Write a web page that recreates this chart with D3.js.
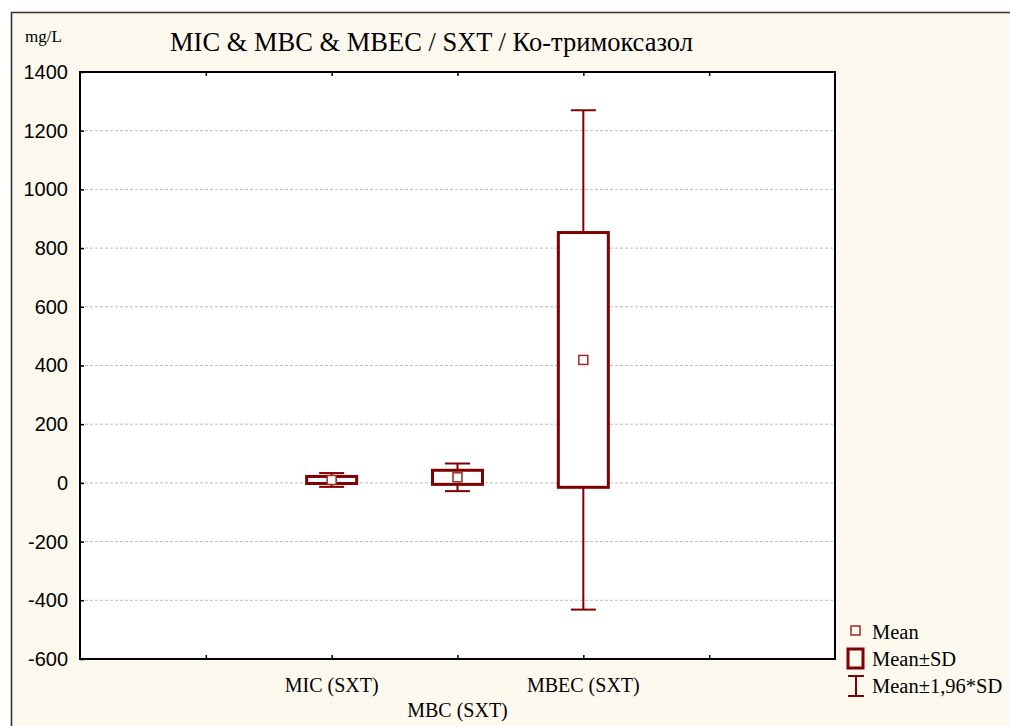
<!DOCTYPE html>
<html>
<head>
<meta charset="utf-8">
<script src="https://cdn.jsdelivr.net/npm/d3@7"></script>
<style>
  html, body { margin: 0; padding: 0; background: #ffffff; overflow: hidden; }
  svg { display: block; }
</style>
</head>
<body>
<svg id="chart" width="1010" height="726"></svg>
<script>
// Variables shown on the category axis
const categories = ["MIC (SXT)", "MBC (SXT)", "MBEC (SXT)"];
// Mean and standard deviation of each variable (mg/L)
const means = [10, 19, 419];
const sds = [12, 24, 434];
// Value-axis tick labels
const yTicks = [-600, -400, -200, 0, 200, 400, 600, 800, 1000, 1200, 1400];
const gridValues = [-400, -200, 0, 200, 400, 600, 800, 1000, 1200];
const legendLabels = ["Mean", "Mean±SD", "Mean±1,96*SD"];

const svg = d3.select("#chart");
const red = "#7f0000";
const serif = "Liberation Serif";
const sans = "Liberation Sans";

const plot = { left: 80, right: 835, top: 72, bottom: 659 };

// Outer panel: cream fill with a border on the left and top edges
svg.append("rect").attr("x", 11).attr("y", 12).attr("width", 999).attr("height", 714)
  .attr("fill", "#fdf9ef");
svg.append("path").attr("d", "M11.5,726 V12.5 H1010")
  .attr("fill", "none").attr("stroke", "#333").attr("stroke-width", 1.6);

// Plot area
svg.append("rect").attr("x", plot.left).attr("y", plot.top)
  .attr("width", plot.right - plot.left).attr("height", plot.bottom - plot.top)
  .attr("fill", "#ffffff");

const y = d3.scaleLinear().domain([-600, 1400]).range([plot.bottom, plot.top]);
// Six equal slots across the plot; variables sit on slot boundaries 2..4
const x = d3.scaleLinear().domain([0, 6]).range([plot.left, plot.right]);
const xPos = i => x(i + 2);

// Dashed horizontal gridlines
svg.append("g").selectAll("line").data(gridValues).join("line")
  .attr("x1", plot.left).attr("x2", plot.right)
  .attr("y1", d => y(d)).attr("y2", d => y(d))
  .attr("stroke", "#bdbdbd").attr("stroke-width", 1).attr("stroke-dasharray", "3,2");

// Y axis labels and inner ticks
const yAxis = svg.append("g").attr("transform", `translate(${plot.left},0)`)
  .call(d3.axisLeft(y).tickValues(yTicks).tickSize(-4).tickPadding(12).tickFormat(d => String(d)));
yAxis.select(".domain").remove();
yAxis.selectAll(".tick line").attr("stroke", "#000").attr("stroke-width", 1.5);
yAxis.selectAll(".tick text").attr("font-family", sans).attr("font-size", 20)
  .attr("fill", "#000").attr("x", -12);

// X axis inner ticks, top and bottom
const xTickVals = [1, 2, 3, 4, 5];
const xb = svg.append("g").attr("transform", `translate(0,${plot.bottom})`)
  .call(d3.axisBottom(x).tickValues(xTickVals).tickSize(-4).tickFormat(""));
xb.select(".domain").remove();
xb.selectAll(".tick line").attr("stroke", "#000").attr("stroke-width", 1.5);
const xt = svg.append("g").attr("transform", `translate(0,${plot.top})`)
  .call(d3.axisTop(x).tickValues(xTickVals).tickSize(-4).tickFormat(""));
xt.select(".domain").remove();
xt.selectAll(".tick line").attr("stroke", "#000").attr("stroke-width", 1.5);

// Plot frame
svg.append("rect").attr("x", plot.left).attr("y", plot.top)
  .attr("width", plot.right - plot.left).attr("height", plot.bottom - plot.top)
  .attr("fill", "none").attr("stroke", "#000").attr("stroke-width", 2);

// Category labels, staggered on two rows
svg.append("g").selectAll("text").data(categories).join("text")
  .attr("x", (d, i) => xPos(i))
  .attr("y", (d, i) => i % 2 === 0 ? 692 : 717)
  .attr("text-anchor", "middle")
  .attr("font-family", serif).attr("font-size", 20).attr("fill", "#000")
  .text(d => d);

// Box & whisker marks
const boxW = 50, capW = 25;
const g = svg.append("g");
categories.forEach((c, i) => {
  const cx = xPos(i), m = means[i], s = sds[i];
  const wHi = m + 1.96 * s, wLo = m - 1.96 * s;
  const bHi = m + s, bLo = m - s;
  // whisker stems
  g.append("line").attr("x1", cx).attr("x2", cx).attr("y1", y(wHi)).attr("y2", y(bHi))
    .attr("stroke", red).attr("stroke-width", 2);
  g.append("line").attr("x1", cx).attr("x2", cx).attr("y1", y(bLo)).attr("y2", y(wLo))
    .attr("stroke", red).attr("stroke-width", 2);
  // caps
  [wHi, wLo].forEach(v => {
    g.append("line").attr("x1", cx - capW / 2).attr("x2", cx + capW / 2)
      .attr("y1", y(v)).attr("y2", y(v)).attr("stroke", red).attr("stroke-width", 2);
  });
  // SD box
  g.append("rect").attr("x", cx - boxW / 2).attr("y", y(bHi))
    .attr("width", boxW).attr("height", y(bLo) - y(bHi))
    .attr("fill", "#ffffff").attr("stroke", red).attr("stroke-width", 3);
  // mean marker
  g.append("rect").attr("x", cx - 4.5).attr("y", y(m) - 4.5).attr("width", 9).attr("height", 9)
    .attr("fill", "#ffffff").attr("stroke", "#9a2a2a").attr("stroke-width", 1.5);
});

// Title and unit
svg.append("text").attr("x", 170).attr("y", 51)
  .attr("font-family", serif).attr("font-size", 26.5).attr("fill", "#000")
  .text("MIC & MBC & MBEC / SXT / Ко-тримоксазол");
svg.append("text").attr("x", 25).attr("y", 42)
  .attr("font-family", serif).attr("font-size", 17).attr("fill", "#000")
  .text("mg/L");

// Legend
const lg = svg.append("g");
lg.append("rect").attr("x", 851).attr("y", 626).attr("width", 9).attr("height", 9)
  .attr("fill", "none").attr("stroke", "#9a2a2a").attr("stroke-width", 1.5);
lg.append("rect").attr("x", 848).attr("y", 649).attr("width", 15).attr("height", 19)
  .attr("fill", "none").attr("stroke", red).attr("stroke-width", 3);
lg.append("line").attr("x1", 848).attr("x2", 864).attr("y1", 676).attr("y2", 676)
  .attr("stroke", red).attr("stroke-width", 2);
lg.append("line").attr("x1", 848).attr("x2", 864).attr("y1", 696).attr("y2", 696)
  .attr("stroke", red).attr("stroke-width", 2);
lg.append("line").attr("x1", 856).attr("x2", 856).attr("y1", 676).attr("y2", 696)
  .attr("stroke", red).attr("stroke-width", 2);
lg.selectAll("text").data(legendLabels).join("text")
  .attr("x", 872).attr("y", (d, i) => [639, 666, 693][i])
  .attr("font-family", serif).attr("font-size", 20.5).attr("fill", "#000")
  .text(d => d);
</script>
</body>
</html>
